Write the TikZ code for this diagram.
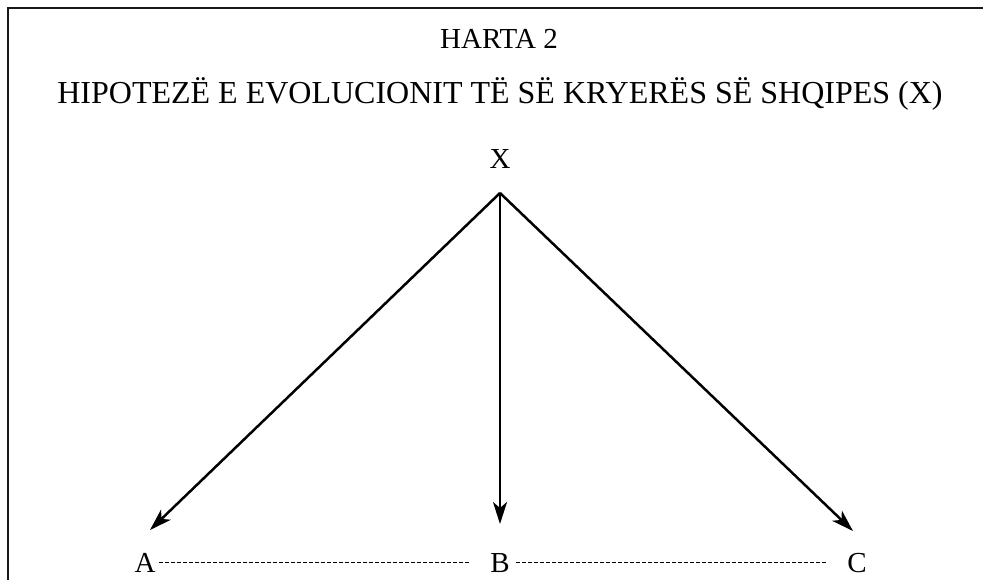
\documentclass[tikz,border=0pt]{standalone}
\usepackage{fontspec}
\setmainfont{Liberation Serif}
\usetikzlibrary{arrows.meta}
\begin{document}
\begin{tikzpicture}[x=1pt,y=-1pt,
  lbl/.style={inner sep=0pt,anchor=base,font=\fontsize{29}{34}\selectfont},
  arr/.style={line width=2.5pt,-{Stealth[length=22pt,width=14pt,inset=6pt]}},
  dashline/.style={line width=1pt,dash pattern=on 4pt off 2pt}]
\useasboundingbox (0,0) rectangle (983,579);
\draw[line width=2.5pt,gray!20!black] (8,600) -- (8,8) -- (1000,8);
\node[lbl] (t1) at (499,48) {HARTA 2};
\node[lbl,font=\fontsize{32}{36}\selectfont] (t2) at (500,103) {HIPOTEZË E EVOLUCIONIT TË SË KRYERËS SË SHQIPES (X)};
\node[lbl] (x) at (500,168) {X};
\coordinate (top) at (500,193);
\coordinate (ea) at (150,530);
\coordinate (eb) at (500,524);
\coordinate (ec) at (853,531);
\draw[arr] (top) -- (ea);
\draw[arr] (top) -- (eb);
\draw[arr] (top) -- (ec);
\node[lbl] (a) at (145,572) {A};
\node[lbl] (b) at (500,572) {B};
\node[lbl] (c) at (857,572) {C};
\draw[dashline] ([xshift=3pt,yshift=10pt]a.base east) -- ([xshift=-20pt,yshift=10pt]b.base west);
\draw[dashline] ([xshift=6pt,yshift=10pt]b.base east) -- ([xshift=-20pt,yshift=10pt]c.base west);
\end{tikzpicture}
\end{document}
